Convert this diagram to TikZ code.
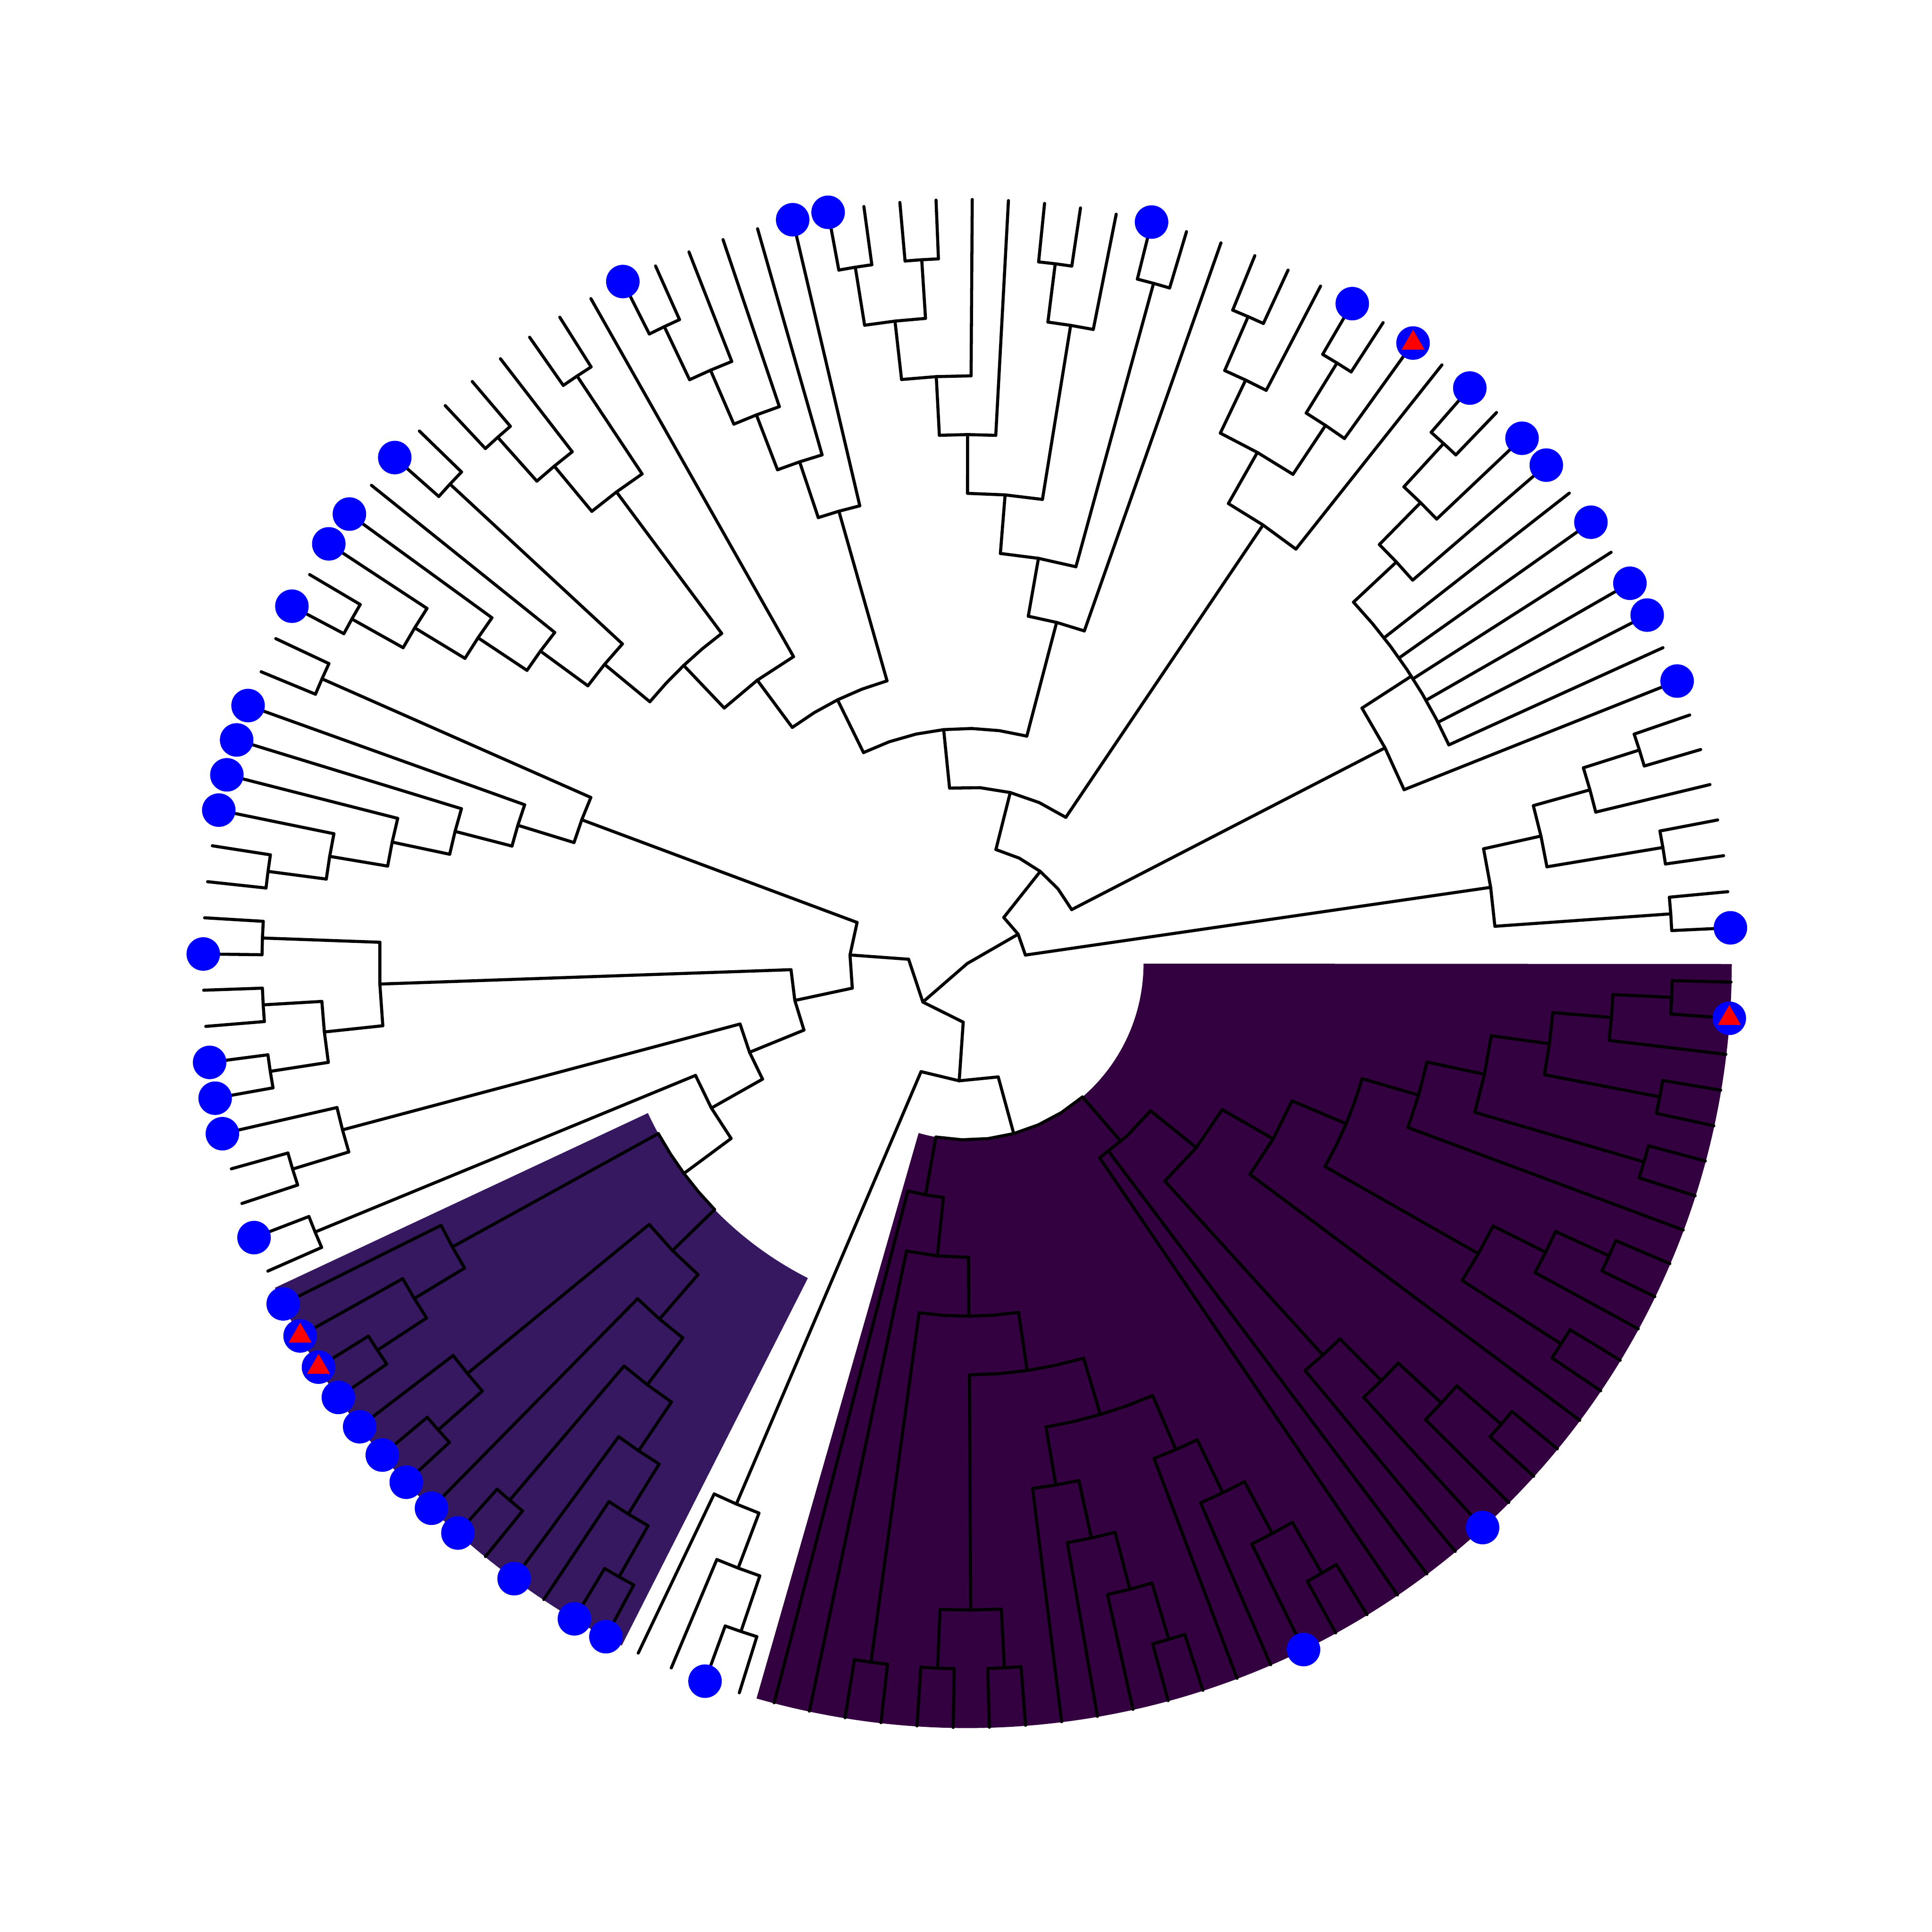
\documentclass[tikz,border=0pt]{standalone}
\usetikzlibrary{shapes.geometric}
\definecolor{cladedark}{RGB}{51,0,64}
\definecolor{cladelight}{RGB}{54,24,96}
\begin{document}
\begin{tikzpicture}[x=1mm,y=1mm,
  branch/.style={line width=0.25mm,line join=round,line cap=round},
  tipdot/.style={circle,fill=blue,inner sep=0pt,minimum size=2.72mm},
  tiptri/.style={regular polygon,regular polygon sides=3,fill=red,inner sep=0pt,minimum size=2.15mm}]
\useasboundingbox (-78.5,-78.6) rectangle (78.3,78.2);
% highlighted clades
\foreach \ca/\cb/\ri/\col in {74.5/88.5/28.62/cladelight,92.5/131.5/14.31/cladedark}{
  \pgfmathsetmacro\angA{2.68+2.717*\ca}
  \pgfmathsetmacro\angB{2.68+2.717*\cb}
  \fill[\col] (\angA:\ri) arc[start angle=\angA,end angle=\angB,radius=\ri]
    -- (\angB:62.05) arc[start angle=\angB,end angle=\angA,radius=62.05] -- cycle;
}
% internal nodes: position/first child/last child/level/parent level
\foreach \t/\a/\b/\l/\p in {
  0.5/0/1/12/9, 2.5/2/3/12/10, 5.5/5/6/12/11, 4.75/4/5.5/11/10, 3.625/2.5/4.75/10/9,
  2.0625/0.5/3.625/9/1, 16.5/16/17/12/11, 15.75/15/16.5/11/10, 14.875/14/15.75/10/9,
  11.125/8/14.875/9/8, 9.0625/7/11.125/8/2, 20.5/20/21/12/11, 19.75/19/20.5/11/10,
  23.5/23/24/12/11, 22.75/22/23.5/11/10, 21.25/19.75/22.75/10/9, 19.625/18/21.25/9/3,
  26.5/26/27/12/7, 29.5/29/30/12/11, 28.75/28/29.5/11/8, 33.5/33/34/12/11,
  35.5/35/36/12/11, 34.5/33.5/35.5/11/10, 33.25/32/34.5/10/9, 32.125/31/33.25/9/8,
  30.4375/28.75/32.125/8/7, 28.46875/26.5/30.4375/7/6, 26.734375/25/28.46875/6/4,
  41.5/41/42/12/11, 40.75/40/41.5/11/10, 39.875/39/40.75/10/9, 38.9375/38/39.875/9/8,
  37.96875/37/38.9375/8/5, 44.5/44/45/12/10, 47.5/47/48/12/11, 46.75/46/47.5/11/10,
  45.625/44.5/46.75/10/7, 49.5/49/50/12/8, 54.5/54/55/12/11, 53.75/53/54.5/11/10,
  52.875/52/53.75/10/9, 51.9375/51/52.875/9/8, 50.71875/49.5/51.9375/8/7,
  48.171875/45.625/50.71875/7/6, 45.5859/43/48.171875/6/5, 41.7773/37.96875/45.5859/5/4,
  34.2559/26.734375/41.7773/4/3, 26.9404/19.625/34.2559/3/2, 18.0012/9.0625/26.9404/2/1,
  10.0319/2.0625/18.0012/1/0,
  56.5/56/57/12/7, 62.5/62/63/12/11, 61.75/61/62.5/11/10, 60.875/60/61.75/10/9,
  59.9375/59/60.875/9/8, 58.96875/58/59.9375/8/7, 57.734375/56.5/58.96875/7/2,
  64.5/64/65/12/10, 66.5/66/67/12/11, 68.5/68/69/12/11, 67.5/66.5/68.5/11/10,
  66/64.5/67.5/10/3, 71.5/71/72/12/11, 70.75/70/71.5/11/4, 73.5/73/74/12/5,
  77.5/77/78/12/11, 76.75/76/77.5/11/10, 75.875/75/76.75/10/6, 80.5/80/81/12/11,
  79.75/79/80.5/11/7, 83.5/83/84/12/9, 87.5/87/88/12/11, 86.75/86/87.5/11/10,
  85.875/85/86.75/10/9, 84.6875/83.5/85.875/9/8, 83.34375/82/84.6875/8/7,
  81.546875/79.75/83.34375/7/6, 78.7109/75.875/81.546875/6/5, 76.1055/73.5/78.7109/5/4,
  73.4277/70.75/76.1055/4/3, 69.7139/66/73.4277/3/2, 63.7241/57.734375/69.7139/2/1,
  91.5/91/92/12/11, 90.75/90/91.5/11/10, 89.875/89/90.75/10/2, 95.5/95/96/12/6,
  97.5/97/98/12/11, 99.5/99/100/12/11, 98.5/97.5/99.5/11/7, 104.5/104/105/12/11,
  103.75/103/104.5/11/10, 102.875/102/103.75/10/9, 101.9375/101/102.875/9/8,
  109.5/109/110/12/11, 108.75/108/109.5/11/10, 107.875/107/108.75/10/9,
  106.9375/106/107.875/9/8, 104.4375/101.9375/106.9375/8/7, 101.46875/98.5/104.4375/7/6,
  98.484375/95.5/101.46875/6/5, 96.2422/94/98.484375/5/4, 94.6211/93/96.2422/4/3,
  116.5/116/117/12/11, 115.75/115/116.5/11/10, 114.875/114/115.75/10/9,
  113.9375/113/114.875/9/5, 119.5/119/120/12/10, 122.5/122/123/12/11,
  121.75/121/122.5/11/10, 120.625/119.5/121.75/10/7, 125.5/125/126/12/9,
  127.5/127/128/12/10, 130.5/130/131/12/11, 129.75/129/130.5/11/10,
  128.625/127.5/129.75/10/9, 127.0625/125.5/128.625/9/8, 125.53125/124/127.0625/8/7,
  123.078125/120.625/125.53125/7/6, 120.5391/118/123.078125/6/5,
  117.2383/113.9375/120.5391/5/4, 113.4128/111/117.2383/4/3, 104.0169/94.6211/113.4128/3/2,
  96.946/89.875/104.0169/2/1, 80.335/63.7241/96.946/1/0}{
  \pgfmathsetmacro\angA{2.68+2.717*\a}
  \pgfmathsetmacro\angB{2.68+2.717*\b}
  \pgfmathsetmacro\angN{2.68+2.717*\t}
  \pgfmathsetmacro\radN{4.77*\l}
  \pgfmathsetmacro\radP{4.77*\p}
  \pgfmathtruncatemacro\nseg{2*max(1,round(\radN*(\angB-\angA)*pi/180/5.05))+1}
  \draw[branch] plot[domain=\angA:\angB,samples=\nseg] (\x:\radN);
  \draw[branch] (\angN:\radP) -- (\angN:\radN);
}
% leaves
\foreach \i in {0,...,131}
  \draw[branch] ({2.68+2.717*\i}:57.24) -- ({2.68+2.717*\i}:62.01);
\foreach \i/\p in {4/11,7/8,8/9,9/9,10/9,11/9,12/9,13/9,14/10,15/11,18/9,19/11,22/11,
  25/6,28/11,31/9,32/10,37/8,38/9,39/10,40/11,43/6,46/11,51/9,52/10,53/11,58/8,59/9,
  60/10,61/11,70/11,75/10,76/11,79/11,82/8,85/10,86/11,89/10,90/11,93/4,94/5,101/9,
  102/10,103/11,106/9,107/10,108/11,111/4,112/4,113/9,114/10,115/11,118/6,121/11,
  124/8,129/11}
  \draw[branch] ({2.68+2.717*\i}:{4.77*\p}) -- ({2.68+2.717*\i}:57.24);
% tip markers
\foreach \i in {0,7,9,10,12,14,15,17,19,21,27,36,37,42,50,52,53,55,58,59,60,61,65,
  68,69,70,73,75,76,77,78,79,80,81,82,83,85,87,88,91,108,114,130}
  \node[tipdot] (tip\i) at ({2.68+2.717*\i}:62.01) {};
\foreach \i in {19,76,77,130}
  \node[tiptri] at (tip\i) {};
\end{tikzpicture}
\end{document}
